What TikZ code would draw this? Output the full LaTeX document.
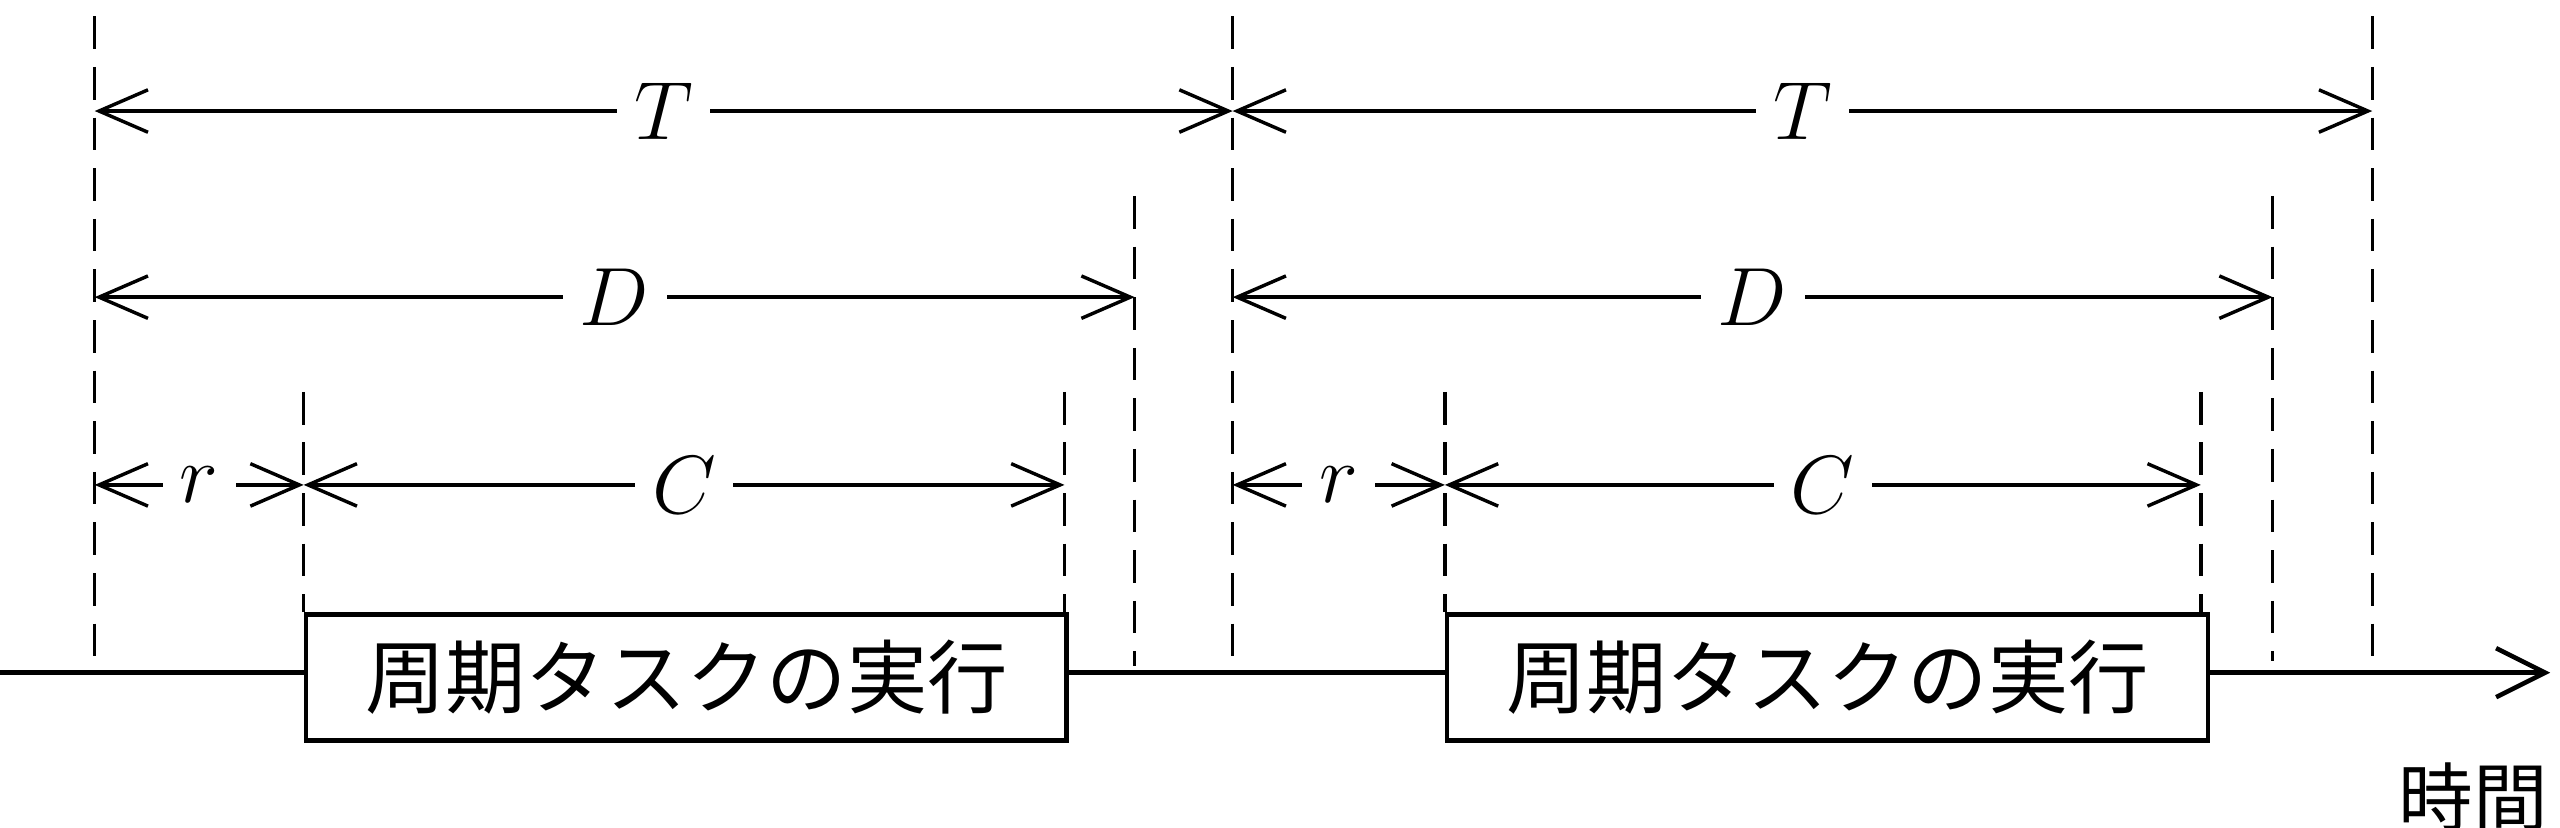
\documentclass[tikz,border=0pt]{standalone}
\usepackage{fontspec}
\newfontfamily\cjk{Noto Sans CJK JP}
\usetikzlibrary{arrows.meta}
\begin{document}
\begin{tikzpicture}[x=0.1mm,y=-0.1mm,
  dim/.style={{Straight Barb[length=3mm,width=2.6mm]}-{Straight Barb[length=3mm,width=2.6mm]},line width=0.6pt},
  guide/.style={dashed,line width=0.6pt,dash pattern=on 2mm off 1.1mm},
  lbl/.style={fill=white,inner sep=3pt,font=\fontsize{15}{15}\selectfont\itshape},
  task/.style={draw,fill=white,line width=0.8pt,minimum width=46.6mm,minimum height=7.7mm,anchor=north west,inner sep=0pt,font=\cjk\fontsize{14}{14}\selectfont}]
\useasboundingbox (0,0) rectangle (1568,507);
% axis
\coordinate (a0) at (0,412); \coordinate (a1) at (1562,412);
\draw[line width=0.8pt,-{Straight Barb[length=3mm,width=3mm]}] (a0) -- (a1);
\node[font=\cjk\fontsize{13}{13}\selectfont] (time) at (1515,488) {時間};
% guides
\foreach \n/\x/\t/\b in {g1/58/10/412,g2/755/10/412,g3/1453/10/412,g4/695/120/408,g5/1392/120/405,g6/186/240/375,g7/652/240/375,g8/885/240/375,g9/1348/240/375}{
  \coordinate (\n t) at (\x,\t); \coordinate (\n b) at (\x,\b);
  \draw[guide] (\n t) -- (\n b);}
% boxes
\node[task] (box1) at (186,375) {周期タスクの実行};
\node[task] (box2) at (885,375) {周期タスクの実行};
% dims
\foreach \a/\b/\y/\l in {58/755/68/T,755/1453/68/T,58/695/182/D,755/1392/182/D,58/186/297/r,755/885/297/r,186/652/297/C,885/1348/297/C}{
  \coordinate (L) at (\a,\y); \coordinate (R) at (\b,\y);
  \draw[dim] (L) -- node[lbl] {$\l$} (R);}
\end{tikzpicture}
\end{document}
